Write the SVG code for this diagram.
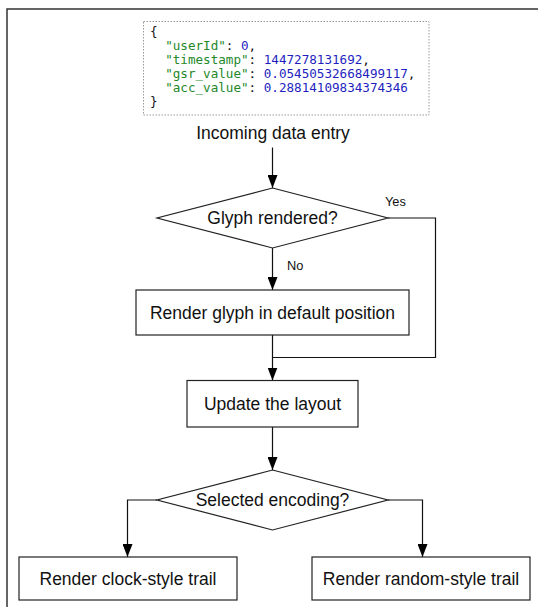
<svg xmlns="http://www.w3.org/2000/svg" width="538" height="607" viewBox="0 0 538 607">
  <style>
    .frame { fill: none; stroke: #333; stroke-width: 1.5; }
    .box { fill: #fff; stroke: #222; stroke-width: 1.2; }
    .json { fill: #fff; stroke: #999; stroke-width: 1; stroke-dasharray: 1.5 1.5; }
    .lbl { font-family: "Liberation Sans", Arial, sans-serif; font-size: 17.5px; fill: #111; text-anchor: middle; }
    .small { font-family: "Liberation Sans", Arial, sans-serif; font-size: 12.8px; fill: #111; }
    .code { font-family: "DejaVu Sans Mono", "Liberation Mono", monospace; font-size: 12.6px; fill: #111; white-space: pre; }
    .key { fill: #24882a; }
    .num { fill: #1f1fc0; }
    .edge { fill: none; stroke: #111; stroke-width: 1.2; }
  </style>
  <defs>
    <marker id="arrow" viewBox="0 0 13 10" refX="13" refY="5" markerWidth="13" markerHeight="10" markerUnits="userSpaceOnUse" orient="auto">
      <path d="M0,0 L13,5 L0,10 z" fill="#000"/>
    </marker>
  </defs>

  <rect width="538" height="607" fill="#fff"/>
  <!-- outer frame, runs past the right and bottom edges -->
  <rect class="frame" x="7" y="9" width="600" height="700"/>

  <!-- sample record -->
  <g id="data-sample">
    <rect class="json" x="143.5" y="21.5" width="285.5" height="93.5"/>
    <text class="code" x="150" y="36">{</text>
    <text class="code" x="150" y="50">  <tspan class="key">"userId"</tspan>: <tspan class="num">0</tspan>,</text>
    <text class="code" x="150" y="64">  <tspan class="key">"timestamp"</tspan>: <tspan class="num">1447278131692</tspan>,</text>
    <text class="code" x="150" y="78">  <tspan class="key">"gsr_value"</tspan>: <tspan class="num">0.05450532668499117</tspan>,</text>
    <text class="code" x="150" y="92">  <tspan class="key">"acc_value"</tspan>: <tspan class="num">0.28814109834374346</tspan></text>
    <text class="code" x="150" y="106">}</text>
  </g>

  <g id="incoming">
    <text class="lbl" x="273" y="139">Incoming data entry</text>
  </g>

  <g id="connectors">
    <path class="edge" d="M272.5,147.5 V188" marker-end="url(#arrow)"/>
    <path class="edge" d="M272.5,248 V290" marker-end="url(#arrow)"/>
    <path class="edge" d="M388,218 H435.5 V357.5 H272.5"/>
    <path class="edge" d="M272.5,335 V380.5" marker-end="url(#arrow)"/>
    <path class="edge" d="M272.5,427 V470" marker-end="url(#arrow)"/>
    <path class="edge" d="M157,500 H127.5 V557" marker-end="url(#arrow)"/>
    <path class="edge" d="M388,500 H422.5 V557" marker-end="url(#arrow)"/>
    <text class="small" x="385" y="206">Yes</text>
    <text class="small" x="287" y="270">No</text>
  </g>

  <g id="glyph-rendered">
    <polygon class="box" points="272.5,188 388,218 272.5,248 157,218"/>
    <text class="lbl" x="272.5" y="224">Glyph rendered?</text>
  </g>

  <g id="render-default">
    <rect class="box" x="136" y="290" width="273" height="45"/>
    <text class="lbl" x="272.5" y="318.5">Render glyph in default position</text>
  </g>

  <g id="update-layout">
    <rect class="box" x="187" y="380.5" width="171" height="46.5"/>
    <text class="lbl" x="272.5" y="409.5">Update the layout</text>
  </g>

  <g id="selected-encoding">
    <polygon class="box" points="272.5,470 388,500 272.5,530 157,500"/>
    <text class="lbl" x="272.5" y="506">Selected encoding?</text>
  </g>

  <g id="clock-trail">
    <rect class="box" x="19" y="557" width="218" height="43"/>
    <text class="lbl" x="128" y="584.5">Render clock-style trail</text>
  </g>

  <g id="random-trail">
    <rect class="box" x="312" y="557" width="218" height="43"/>
    <text class="lbl" x="421" y="584.5">Render random-style trail</text>
  </g>
</svg>
